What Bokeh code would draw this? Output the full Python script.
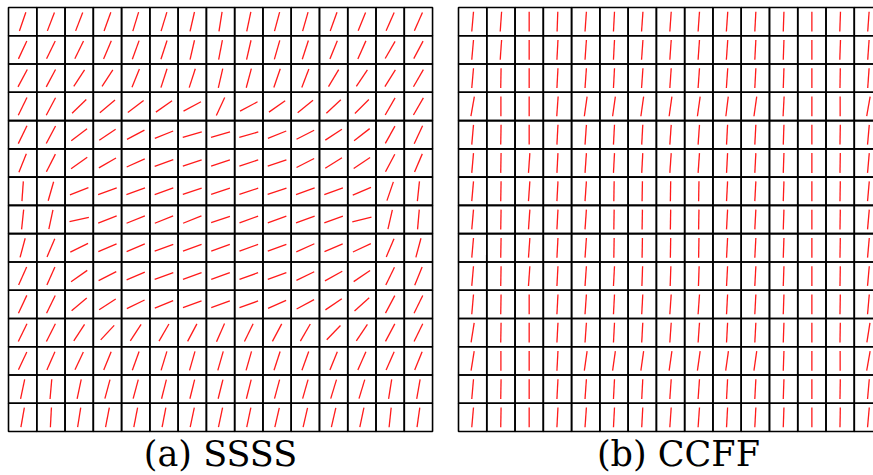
import numpy as np
from bokeh.plotting import figure
from bokeh.models import Range1d, ColumnDataSource
from bokeh.core.properties import value
from bokeh.embed import file_html
from bokeh.resources import INLINE

# Fibre orientation angle (degrees from horizontal) in each cell, top row first
ssss_angles = [
    [71, 69, 69, 70, 73, 73, 77, 81, 78, 75, 74, 70, 68, 66, 66],
    [65, 64, 64, 67, 70, 72, 77, 79, 77, 74, 72, 68, 66, 60, 62],
    [62, 62, 57, 57, 68, 72, 72, 77, 75, 71, 69, 59, 56, 58, 60],
    [64, 62, 44, 40, 37, 35, 28, 65, 28, 35, 39, 43, 45, 60, 60],
    [64, 62, 37, 34, 28, 22, 16, 16, 16, 22, 27, 33, 38, 61, 65],
    [68, 63, 35, 30, 24, 20, 18, 18, 18, 19, 27, 32, 34, 62, 67],
    [86, 74, 21, 20, 20, 20, 18, 18, 18, 18, 20, 20, 23, 71, 84],
    [84, 78, 12, 21, 22, 22, 22, 18, 20, 20, 20, 20, 14, 77, 85],
    [75, 67, 26, 23, 23, 20, 20, 20, 20, 20, 24, 23, 25, 67, 75],
    [66, 66, 35, 27, 23, 20, 20, 20, 20, 20, 26, 29, 34, 64, 68],
    [65, 64, 40, 33, 26, 22, 20, 20, 20, 24, 28, 34, 42, 62, 64],
    [64, 63, 57, 47, 57, 60, 62, 66, 64, 62, 60, 46, 56, 62, 64],
    [65, 66, 65, 68, 70, 73, 74, 74, 74, 72, 70, 68, 66, 66, 68],
    [78, 85, 78, 75, 75, 76, 76, 76, 76, 75, 74, 73, 73, 81, 80],
    [80, 87, 81, 79, 79, 79, 78, 78, 78, 77, 77, 77, 78, 84, 82],
]

ccff_angles = [
    [85, 86, 90, 88, 86, 87, 86, 86, 86, 86, 87, 88, 90, 88, 86],
    [85, 86, 90, 87, 86, 87, 86, 86, 86, 86, 87, 88, 90, 88, 86],
    [85, 89, 90, 87, 86, 87, 86, 86, 86, 86, 87, 88, 90, 89, 86],
    [80, 90, 90, 86, 82, 82, 82, 82, 82, 83, 82, 87, 90, 90, 80],
    [85, 89, 90, 87, 86, 87, 87, 86, 86, 87, 87, 88, 90, 89, 85],
    [85, 89, 86, 87, 86, 87, 87, 86, 86, 87, 87, 88, 90, 89, 85],
    [85, 89, 86, 87, 86, 89, 89, 89, 89, 87, 87, 88, 90, 89, 85],
    [85, 89, 86, 87, 86, 89, 89, 89, 89, 87, 87, 88, 90, 89, 85],
    [85, 89, 86, 87, 86, 89, 89, 89, 89, 87, 87, 88, 90, 89, 85],
    [85, 89, 86, 87, 86, 87, 88, 88, 88, 87, 87, 88, 90, 89, 85],
    [85, 89, 90, 87, 86, 87, 87, 86, 86, 87, 87, 88, 90, 89, 85],
    [81, 89, 90, 87, 86, 87, 87, 86, 86, 87, 87, 88, 90, 89, 81],
    [81, 90, 90, 87, 82, 82, 82, 82, 82, 82, 82, 88, 90, 90, 80],
    [85, 89, 90, 87, 86, 87, 87, 86, 86, 87, 87, 88, 90, 89, 85],
    [85, 89, 90, 87, 86, 87, 87, 86, 86, 87, 87, 88, 90, 89, 85],
]

panel_labels = ["(a) SSSS", "(b) CCFF"]

# Layout (pixels)
W, H = 873, 475
CELL = 28.27          # cell size in pixels
LEFT, TOP = 8, 7      # top-left corner of the first grid
GAP = 450             # horizontal shift between the two grids
N = 15
SEG = 0.7             # segment length as a fraction of a cell

x0 = -LEFT / CELL
y_top = N + TOP / CELL
p = figure(width=W, height=H, output_backend="svg", toolbar_location=None,
           x_range=Range1d(x0, x0 + W / CELL),
           y_range=Range1d(y_top - H / CELL, y_top),
           min_border=0, outline_line_color=None,
           x_axis_location=None, y_axis_location=None)
p.xgrid.visible = False
p.ygrid.visible = False
p.background_fill_color = "white"
p.border_fill_color = "white"

shift_b = GAP / CELL


def panel(angles, dx):
    a = np.radians(np.array(angles, dtype=float))
    rows, cols = np.indices(a.shape)
    cx = (cols + 0.5 + dx).ravel()
    cy = (N - 0.5 - rows).ravel()
    hx = (SEG / 2 * np.cos(a)).ravel()
    hy = (SEG / 2 * np.sin(a)).ravel()
    src = ColumnDataSource(dict(cx=cx, cy=cy,
                                x0=cx - hx, y0=cy - hy, x1=cx + hx, y1=cy + hy))
    p.rect(x="cx", y="cy", width=1, height=1, source=src,
           fill_color=None, line_color="black", line_width=1.6)
    p.segment(x0="x0", y0="y0", x1="x1", y1="y1", source=src,
              line_color="#ff1a1a", line_width=1.3)


panel(ssss_angles, 0.0)
panel(ccff_angles, shift_b)

label_y = -(453 - (TOP + N * CELL)) / CELL
p.text(x=[N / 2, shift_b + N / 2 + 0.28], y=[label_y, label_y], text=panel_labels,
       text_font=value("DejaVu Serif"), text_font_size="35px",
       text_align="center", text_baseline="middle", text_color="black")

open("out.html", "w").write(file_html(p, INLINE))
